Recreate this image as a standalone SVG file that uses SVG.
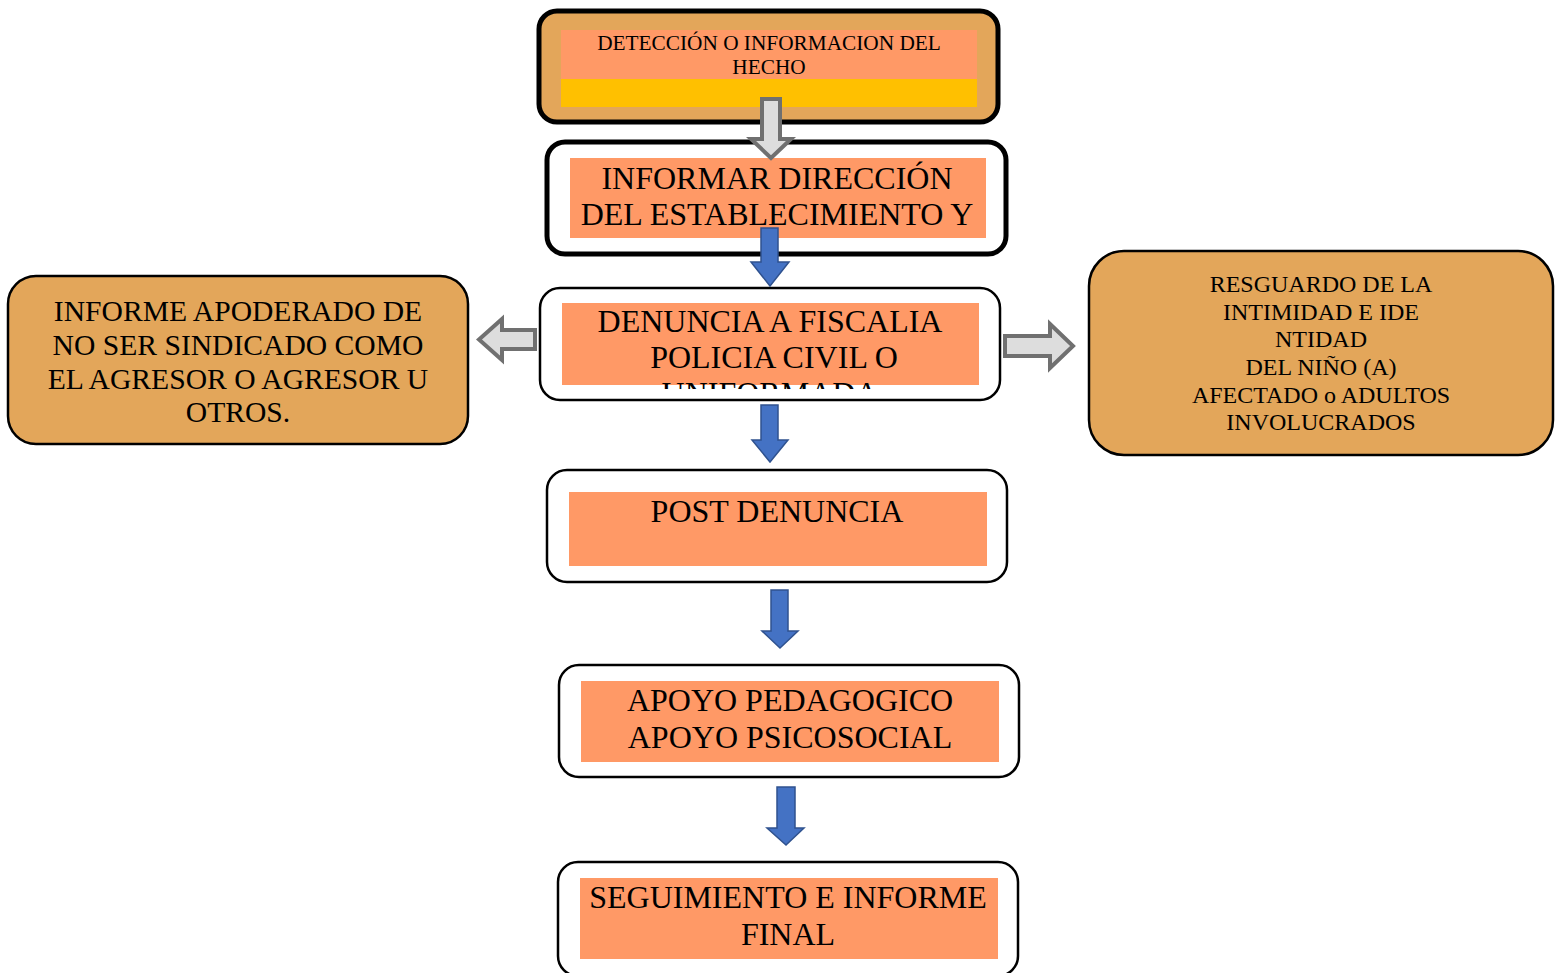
<svg xmlns="http://www.w3.org/2000/svg" width="1555" height="973" viewBox="0 0 1555 973">
<style>
text{font-family:"Liberation Serif","Times New Roman",serif;fill:#000;text-anchor:middle}
.box{fill:#fff;stroke:#000;stroke-width:2.5}
.boxb{fill:#fff;stroke:#000;stroke-width:5}
.tan{fill:#E3A65A;stroke:#000;stroke-width:2.5}
.or{fill:#FF9966}
.ga{fill:#DDDDDD;stroke:#707070;stroke-width:4}
.ba{fill:#4472C4;stroke:#2F528F;stroke-width:1.5}
.t31{font-size:32px}
</style>
<defs>
<clipPath id="c3"><rect x="562" y="303" width="417" height="86"/></clipPath>
</defs>
<g id="n1">
<rect x="539" y="11" width="459" height="111" rx="18" fill="#E3A65A" stroke="#000" stroke-width="5"/>
<rect x="561" y="30" width="416" height="49" class="or"/>
<rect x="561" y="79" width="416" height="28" fill="#FFC000"/>
<text x="769" y="50" font-size="21.3">DETECCIÓN O INFORMACION DEL</text>
<text x="769" y="74" font-size="21.3">HECHO</text>
</g>
<g id="n2">
<rect x="547" y="142" width="459" height="112" rx="18" class="boxb"/>
<rect x="570" y="158" width="416" height="80" class="or"/>
<text x="777" y="189" class="t31">INFORMAR DIRECCIÓN</text>
<text x="777" y="225" class="t31">DEL ESTABLECIMIENTO Y</text>
</g>
<g id="n3">
<rect x="540" y="288" width="460" height="112" rx="20" class="box"/>
<rect x="562" y="303" width="417" height="82" class="or"/>
<text x="770" y="332" class="t31">DENUNCIA A FISCALIA</text>
<text x="774" y="368" class="t31">POLICIA CIVIL O</text>
<text x="770" y="404" class="t31" clip-path="url(#c3)">UNIFORMADA</text>
</g>
<g id="n_left">
<rect x="8" y="276" width="460" height="168" rx="28" class="tan"/>
<text x="238" y="321" font-size="29.6">INFORME APODERADO DE</text>
<text x="238" y="355" font-size="29.6">NO SER SINDICADO COMO</text>
<text x="238" y="389" font-size="29.6">EL AGRESOR O AGRESOR U</text>
<text x="238" y="422" font-size="29.6">OTROS.</text>
</g>
<g id="n_right">
<rect x="1089" y="251" width="464" height="204" rx="35" class="tan"/>
<text x="1321" y="292" font-size="24">RESGUARDO DE LA</text>
<text x="1321" y="320" font-size="24">INTIMIDAD E IDE</text>
<text x="1321" y="347" font-size="24">NTIDAD</text>
<text x="1321" y="375" font-size="24">DEL NIÑO (A)</text>
<text x="1321" y="403" font-size="24">AFECTADO o ADULTOS</text>
<text x="1321" y="430" font-size="24">INVOLUCRADOS</text>
</g>
<g id="n4">
<rect x="547" y="470" width="460" height="112" rx="20" class="box"/>
<rect x="569" y="492" width="418" height="74" class="or"/>
<text x="777" y="522" class="t31">POST DENUNCIA</text>
</g>
<g id="n5">
<rect x="559" y="665" width="460" height="112" rx="20" class="box"/>
<rect x="581" y="681" width="418" height="81" class="or"/>
<text x="790" y="711" class="t31">APOYO PEDAGOGICO</text>
<text x="790" y="748" class="t31">APOYO PSICOSOCIAL</text>
</g>
<g id="n6">
<rect x="558" y="862" width="460" height="114" rx="20" class="box"/>
<rect x="580" y="878" width="418" height="81" class="or"/>
<text x="788" y="908" class="t31">SEGUIMIENTO E INFORME</text>
<text x="788" y="945" class="t31">FINAL</text>
</g>
<g id="connectors">
<path class="ga" d="M762,99 H780 V139 H791 L771,158 L751,139 H762 Z"/>
<path class="ga" d="M535,330 V349 H502 V360 L479,339.5 L502,319 V330 Z"/>
<path class="ga" d="M1005,336 H1050 V324 L1073,346 L1050,368 V356 H1005 Z"/>
<path class="ba" d="M761,228 H778 V262 H789 L770,286 L751,262 H761 Z"/>
<path class="ba" d="M761,405 H778 V440 H788 L770,462 L752,440 H761 Z"/>
<path class="ba" d="M771,590 H788 V631 H798 L780,648 L762,631 H771 Z"/>
<path class="ba" d="M777,787 H795 V828 H804 L786,845 L767,828 H777 Z"/>
</g>
</svg>
